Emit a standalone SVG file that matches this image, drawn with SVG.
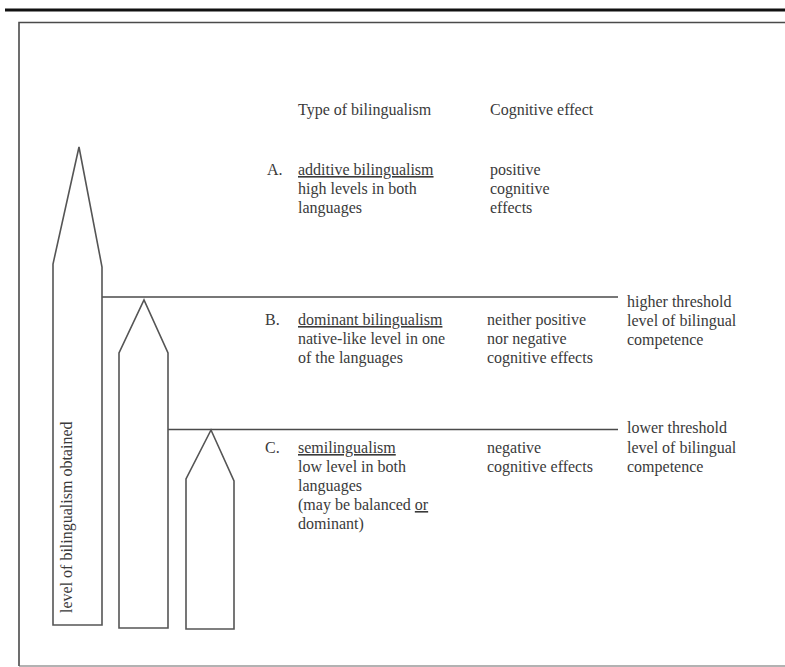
<svg xmlns="http://www.w3.org/2000/svg" width="785" height="667" viewBox="0 0 785 667">
<style>
.t{font-family:"Liberation Serif","Times New Roman",serif;font-size:16px;fill:#3a3a3a}
.u{text-decoration:underline}
.ln{stroke:#4a4a4a;stroke-width:1.6;fill:none}
.pc{stroke:#555;stroke-width:1.6;fill:#fff;stroke-linejoin:miter}
</style>
<rect width="785" height="667" fill="#fff"/>
<line x1="5" y1="10" x2="785" y2="10" stroke="#111" stroke-width="3"/>
<path d="M19 666 V22.5 H785" class="ln" stroke-width="1.4"/>
<line x1="19" y1="666" x2="785" y2="666" stroke="#666" stroke-width="1.2"/>
<g id="connectors">
<line class="ln" x1="100" y1="297" x2="618" y2="297"/>
<line class="ln" x1="167" y1="429.5" x2="618" y2="429.5"/>
</g>
<g id="pencil-additive">
<polygon class="pc" points="53,625 53,264 79,147 102,267 102,625"/>
<text class="t" transform="translate(72,613) rotate(-90)">level of bilingualism obtained</text>
</g>
<g id="pencil-dominant">
<polygon class="pc" points="119,628 119,353 144,300 168,353 168,628"/>
</g>
<g id="pencil-semi">
<polygon class="pc" points="186,629 186,479 211,430 234,481 234,629"/>
</g>
<g id="headers">
<text class="t" x="298" y="115">Type of bilingualism</text>
<text class="t" x="490" y="115">Cognitive effect</text>
</g>
<g id="row-a">
<text class="t" x="267" y="175">A.</text>
<text class="t u" x="298" y="175">additive bilingualism</text>
<text class="t" x="298" y="194">high levels in both</text>
<text class="t" x="298" y="213">languages</text>
<text class="t" x="490" y="175">positive</text>
<text class="t" x="490" y="194">cognitive</text>
<text class="t" x="490" y="213">effects</text>
</g>
<g id="row-b">
<text class="t" x="265" y="325">B.</text>
<text class="t u" x="298" y="325">dominant bilingualism</text>
<text class="t" x="298" y="344">native-like level in one</text>
<text class="t" x="298" y="363">of the languages</text>
<text class="t" x="487" y="325">neither positive</text>
<text class="t" x="487" y="344">nor negative</text>
<text class="t" x="487" y="363">cognitive effects</text>
</g>
<g id="higher-threshold">
<text class="t" x="627" y="307">higher threshold</text>
<text class="t" x="627" y="326">level of bilingual</text>
<text class="t" x="627" y="345">competence</text>
</g>
<g id="row-c">
<text class="t" x="265" y="453">C.</text>
<text class="t u" x="298" y="453">semilingualism</text>
<text class="t" x="298" y="472">low level in both</text>
<text class="t" x="298" y="491">languages</text>
<text class="t" x="298" y="510">(may be balanced <tspan class="u">or</tspan></text>
<text class="t" x="298" y="529">dominant)</text>
<text class="t" x="487" y="453">negative</text>
<text class="t" x="487" y="472">cognitive effects</text>
</g>
<g id="lower-threshold">
<text class="t" x="627" y="433">lower threshold</text>
<text class="t" x="627" y="453">level of bilingual</text>
<text class="t" x="627" y="472">competence</text>
</g>
</svg>
